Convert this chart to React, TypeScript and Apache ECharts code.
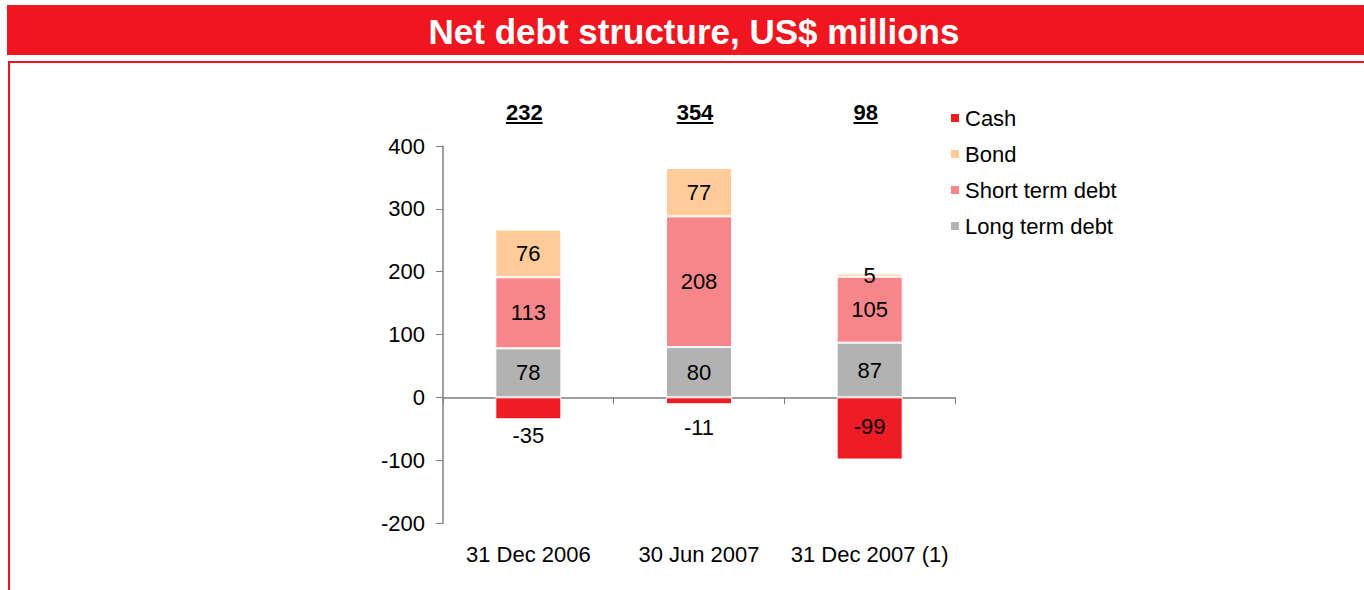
import React, { useEffect, useRef } from "react";
import * as echarts from "echarts";

const categories = ["31 Dec 2006", "30 Jun 2007", "31 Dec 2007 (1)"];
const longTermDebt = [78, 80, 87];
const shortTermDebt = [113, 208, 105];
const bond = [76, 77, 5];
const cash = [-35, -11, -99];
const netDebt = [232, 354, 98];
const yTicks = { min: -200, max: 400, interval: 100 };

const FONT = '"Liberation Sans", Arial, sans-serif';

export default function App() {
  const ref = useRef<HTMLDivElement>(null);
  useEffect(() => {
    if (!ref.current) return;
    const chart = echarts.init(ref.current, null, { renderer: "svg" });
    const labelStyle = {
      show: true,
      color: "#000",
      fontSize: 22,
      fontFamily: FONT,
      position: "inside",
    };
    const cashData = cash.map((v, i) => {
      if (i === 2) {
        return { value: v, label: { position: "insideTop", distance: 18 } };
      }
      return { value: v, label: { position: "bottom", distance: i === 0 ? 5 : 12 } };
    });
    chart.setOption({
      animation: false,
      textStyle: { fontFamily: FONT },
      graphic: [
        {
          type: "rect",
          shape: { x: 7, y: 5, width: 1360, height: 50 },
          style: { fill: "#EF1620" },
          z: 0,
        },
        {
          type: "text",
          x: 694,
          y: 31,
          style: {
            text: "Net debt structure, US$ millions",
            font: `bold 35px ${FONT}`,
            fill: "#fff",
            align: "center",
            verticalAlign: "middle",
          },
          z: 1,
        },
        {
          type: "rect",
          shape: { x: 9, y: 62, width: 1400, height: 600 },
          style: { fill: "none", stroke: "#EF1620", lineWidth: 2 },
          z: 0,
        },
      ],
      legend: {
        orient: "vertical",
        left: 944,
        top: 102,
        itemWidth: 10,
        itemHeight: 10,
        itemGap: 14,
        icon: "rect",
        data: ["Cash", "Bond", "Short term debt", "Long term debt"],
        textStyle: { fontSize: 22, color: "#000", fontFamily: FONT },
      },
      grid: { left: 443, right: 409, top: 146, bottom: 67, containLabel: false },
      xAxis: [
        {
          type: "category",
          data: categories,
          axisLine: { onZero: true, lineStyle: { color: "#808080", width: 1.5 } },
          axisTick: { show: true, length: 7, lineStyle: { color: "#808080" } },
          axisLabel: { show: false },
        },
        {
          type: "category",
          data: categories,
          position: "bottom",
          axisLine: { show: false, onZero: false },
          axisTick: { show: false },
          axisLabel: {
            color: "#000",
            fontSize: 22,
            fontFamily: FONT,
            margin: 20,
            interval: 0,
          },
        },
      ],
      yAxis: {
        type: "value",
        min: yTicks.min,
        max: yTicks.max,
        interval: yTicks.interval,
        axisLine: { show: true, lineStyle: { color: "#808080", width: 1.5 } },
        axisTick: { show: true, length: 7, lineStyle: { color: "#808080" } },
        splitLine: { show: false },
        axisLabel: { color: "#000", fontSize: 22, fontFamily: FONT, margin: 18 },
      },
      series: [
        {
          name: "Long term debt",
          type: "bar",
          stack: "s",
          barWidth: "38.7%",
          data: longTermDebt,
          itemStyle: { color: "#B2B2B2", borderColor: "#fff", borderWidth: 1 },
          label: labelStyle,
        },
        {
          name: "Short term debt",
          type: "bar",
          stack: "s",
          data: shortTermDebt,
          itemStyle: { color: "#F7868A", borderColor: "#fff", borderWidth: 1 },
          label: labelStyle,
        },
        {
          name: "Bond",
          type: "bar",
          stack: "s",
          data: bond,
          itemStyle: { color: "#FFCC99", borderColor: "#fff", borderWidth: 1 },
          label: labelStyle,
        },
        {
          name: "Cash",
          type: "bar",
          stack: "s",
          data: cashData,
          itemStyle: { color: "#EE1C25", borderColor: "#fff", borderWidth: 1 },
          label: labelStyle,
        },
        {
          name: "Net debt",
          type: "custom",
          data: netDebt.map((v, i) => [i, v]),
          encode: { x: 0, y: 1 },
          clip: false,
          silent: true,
          renderItem: (params: any, api: any) => {
            const val = api.value(1);
            const pt = api.coord([api.value(0), yTicks.max]);
            const txt = String(val);
            const w = txt.length * 12.2;
            const cx = pt[0] - 4;
            const cy = pt[1] - 34;
            return {
              type: "group",
              children: [
                {
                  type: "text",
                  x: cx,
                  y: cy,
                  style: {
                    text: txt,
                    font: `bold 22px ${FONT}`,
                    fill: "#000",
                    align: "center",
                    verticalAlign: "middle",
                  },
                },
                {
                  type: "line",
                  shape: { x1: cx - w / 2, y1: cy + 11, x2: cx + w / 2, y2: cy + 11 },
                  style: { stroke: "#000", lineWidth: 2 },
                },
              ],
            };
          },
        },
      ],
    });
    return () => chart.dispose();
  }, []);
  return (
    <div
      ref={ref}
      style={{ position: "fixed", left: 0, top: 0, width: 1364, height: 590, background: "#fff" }}
    />
  );
}
